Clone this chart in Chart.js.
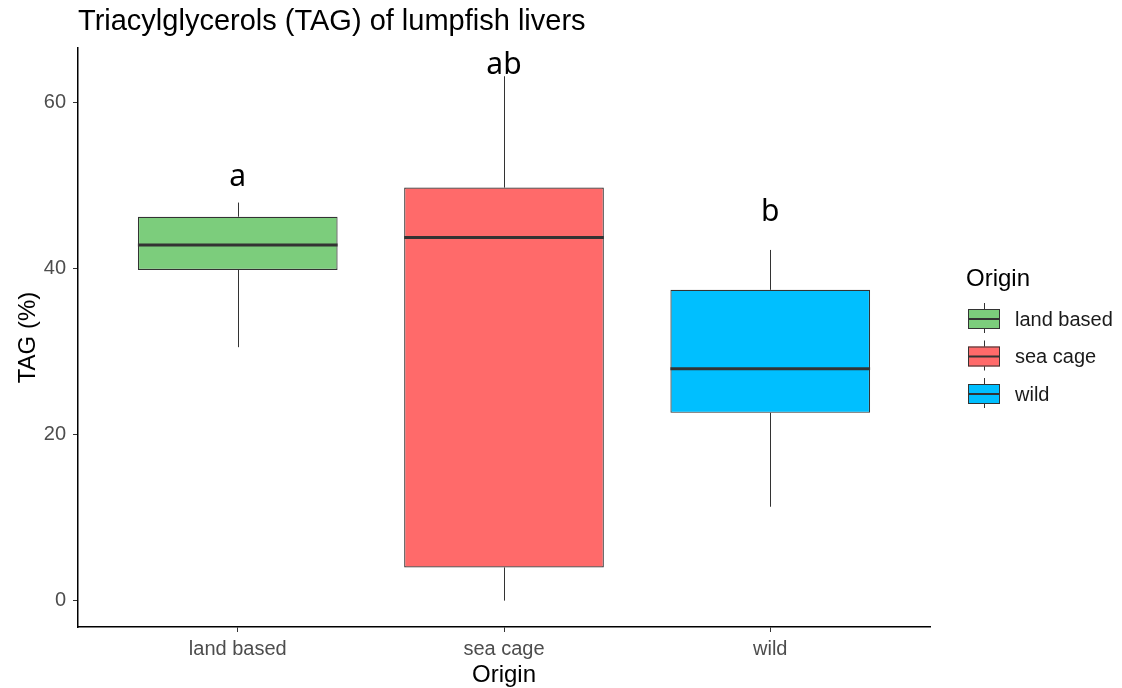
<!DOCTYPE html>
<html>
<head>
<meta charset="utf-8">
<script src="https://cdn.jsdelivr.net/npm/chart.js@4/dist/chart.umd.min.js"></script>
<style>
  html, body { margin: 0; padding: 0; background: #fff; }
  #wrap { width: 1122px; height: 688px; }
</style>
</head>
<body>
<div id="wrap"><canvas id="tagChart"></canvas></div>
<script>
// boxplot stats
const origins = ['land based', 'sea cage', 'wild']
const whiskerLow = [30.5, 0.0, 11.3]
const q1 = [39.8, 4.0, 22.6]
const median = [42.8, 43.7, 27.9]
const q3 = [46.2, 49.7, 37.4]
const whiskerHigh = [47.9, 63.1, 42.2]
const letters = ['a', 'ab', 'b']
const letterAt = [50.9, 64.4, 46.7]
const boxColors = ['#7CCD7C', '#FF6A6A', '#00BFFF']
const yTicks = [0, 20, 40, 60]

const outline = '#333333'
const sans = '"Liberation Sans", Arial, sans-serif'

// whiskers, medians, significance letters
const boxExtras = {
  id: 'boxExtras',
  afterDatasetsDraw(chart) {
    const ctx = chart.ctx
    const y = chart.scales.y
    const meta = chart.getDatasetMeta(0)
    ctx.save()
    meta.data.forEach((bar, i) => {
      const half = bar.width / 2
      const cx = Math.round(bar.x) + 0.5
      ctx.strokeStyle = outline
      ctx.lineWidth = 1
      ctx.beginPath()
      ctx.moveTo(cx, y.getPixelForValue(q3[i]))
      ctx.lineTo(cx, y.getPixelForValue(whiskerHigh[i]))
      ctx.moveTo(cx, y.getPixelForValue(q1[i]))
      ctx.lineTo(cx, y.getPixelForValue(whiskerLow[i]))
      ctx.stroke()
      ctx.lineWidth = 3
      ctx.beginPath()
      ctx.moveTo(bar.x - half, y.getPixelForValue(median[i]))
      ctx.lineTo(bar.x + half, y.getPixelForValue(median[i]))
      ctx.stroke()
      ctx.fillStyle = '#000'
      ctx.font = '30px "Noto Sans", "Open Sans", sans-serif'
      ctx.textAlign = 'center'
      ctx.textBaseline = 'middle'
      ctx.fillText(letters[i], bar.x, y.getPixelForValue(letterAt[i]))
    })
    ctx.restore()
  },
  afterDraw(chart) {
    const ctx = chart.ctx
    const area = chart.chartArea
    ctx.save()
    // title
    ctx.fillStyle = '#000'
    ctx.font = '29px ' + sans
    ctx.textAlign = 'left'
    ctx.textBaseline = 'middle'
    ctx.fillText('Triacylglycerols (TAG) of lumpfish livers', area.left, 22)

    // legend
    const lx = area.right + 36
    ctx.font = '24px ' + sans
    ctx.fillStyle = '#000'
    ctx.fillText('Origin', lx, 279)
    origins.forEach((name, i) => {
      const cy = 319 + i * 37.5
      const kx = lx + 2
      ctx.strokeStyle = outline
      ctx.lineWidth = 1
      ctx.beginPath()
      ctx.moveTo(kx + 16.5, cy - 16)
      ctx.lineTo(kx + 16.5, cy + 14)
      ctx.stroke()
      ctx.fillStyle = boxColors[i]
      ctx.fillRect(kx, cy - 10, 32, 20)
      ctx.strokeRect(kx + 0.5, cy - 9.5, 31, 19)
      ctx.lineWidth = 2
      ctx.beginPath()
      ctx.moveTo(kx, cy)
      ctx.lineTo(kx + 32, cy)
      ctx.stroke()
      ctx.fillStyle = '#1a1a1a'
      ctx.font = '20px ' + sans
      ctx.fillText(name, lx + 49, cy + 1)
    })
    ctx.restore()
  }
}

new Chart(document.getElementById('tagChart'), {
  type: 'bar',
  data: {
    datasets: [{
      data: origins.map((_, i) => ({ x: i + 1, y: [q1[i], q3[i]] })),
      backgroundColor: boxColors,
      borderColor: outline,
      borderWidth: 1.2,
      borderSkipped: false,
      barPercentage: 0.75,
      categoryPercentage: 1.0
    }]
  },
  options: {
    responsive: true,
    maintainAspectRatio: false,
    animation: false,
    layout: { padding: { top: 48, right: 192, left: 0, bottom: 0 } },
    plugins: {
      legend: { display: false },
      tooltip: { enabled: false }
    },
    scales: {
      x: {
        type: 'linear',
        min: 0.4,
        max: 3.6,
        offset: false,
        afterFit: (s) => { s.height = 61 },
        afterBuildTicks: (s) => { s.ticks = origins.map((_, i) => ({ value: i + 1 })) },
        grid: { offset: false, drawOnChartArea: false, tickLength: 5, tickColor: outline, tickWidth: 1 },
        border: { color: '#000', width: 1.5 },
        ticks: {
          color: '#4D4D4D',
          font: { family: sans, size: 20 },
          padding: 5,
          callback: (v) => origins[v - 1]
        },
        title: { display: true, text: 'Origin', color: '#000', font: { family: sans, size: 24, lineHeight: 1 }, padding: { top: 0, bottom: 1 } }
      },
      y: {
        min: -3.17,
        max: 66.5,
        afterFit: (s) => { s.width = 78 },
        afterBuildTicks: (s) => { s.ticks = yTicks.map(v => ({ value: v })) },
        grid: { drawOnChartArea: false, tickLength: 5, tickColor: outline, tickWidth: 1 },
        border: { color: '#000', width: 1.5 },
        ticks: { color: '#4D4D4D', font: { family: sans, size: 20 }, padding: 7 },
        title: { display: true, text: 'TAG (%)', color: '#000', font: { family: sans, size: 24 }, padding: { top: 14, bottom: 0 } }
      }
    }
  },
  plugins: [boxExtras]
})
</script>
</body>
</html>
